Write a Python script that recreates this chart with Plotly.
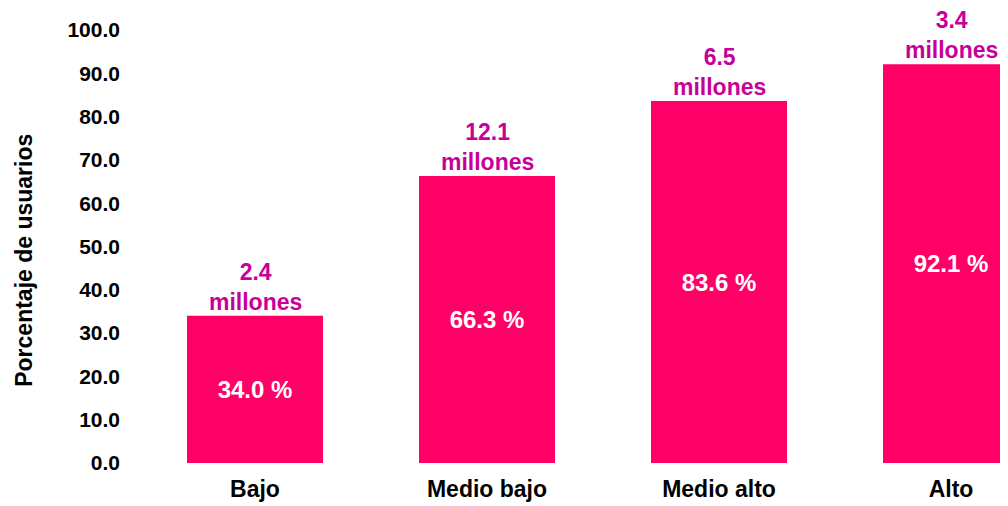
import plotly.graph_objects as go

categories = ["Bajo", "Medio bajo", "Medio alto", "Alto"]
percentages = [34.0, 66.3, 83.6, 92.1]
millions = ["2.4", "12.1", "6.5", "3.4"]
y_ticks = [0, 10, 20, 30, 40, 50, 60, 70, 80, 90, 100]

BAR = "#FF0066"
MAG = "#C8009A"
FONT = "Liberation Sans, Arial, sans-serif"

# page body has an 8px margin, so the figure is laid out 8px in from the window
FIG_W, FIG_H = 1000, 498
left = 131
top = 22
bottom = 42.5
band = 232
plot_w = FIG_W - left

fig = go.Figure()
fig.add_trace(go.Bar(
    x=categories,
    y=percentages,
    marker=dict(color=BAR, line=dict(width=0)),
    text=[f"{v:.1f} %" for v in percentages],
    textposition="inside",
    insidetextanchor="middle",
    textangle=0,
    textfont=dict(family=FONT, size=24, color="white", weight="bold"),
    cliponaxis=False,
    hoverinfo="skip",
))

for c, v, m in zip(categories, percentages, millions):
    fig.add_annotation(
        x=c, y=v, xref="x", yref="y",
        text=f"<b>{m}<br>millones</b>",
        showarrow=False, yanchor="bottom", xanchor="center",
        font=dict(family=FONT, size=23, color=MAG),
        borderpad=0,
        yshift=0,
    )

fig.add_annotation(
    x=0, xref="paper", xanchor="right", xshift=-101,
    y=0.467, yref="paper", yanchor="middle",
    text="<b>Porcentaje de usuarios</b>", textangle=-90,
    showarrow=False,
    borderpad=0,
    font=dict(family=FONT, size=23, color="black"),
)

fig.update_layout(
    width=FIG_W, height=FIG_H,
    margin=dict(l=left, r=0, t=top, b=bottom, pad=0),
    paper_bgcolor="white", plot_bgcolor="white",
    showlegend=False,
    bargap=96 / 232,
    xaxis=dict(
        range=[-0.5, -0.5 + plot_w / band],
        showgrid=False, showline=False, zeroline=False, ticks="",
        tickfont=dict(family=FONT, size=23, color="black", weight="bold"),
        ticklabelstandoff=10,
        fixedrange=True,
    ),
    yaxis=dict(
        range=[0, 100],
        tickvals=y_ticks,
        ticktext=[f"{t:.1f}" for t in y_ticks],
        showgrid=False, showline=False, zeroline=False, ticks="",
        tickfont=dict(family=FONT, size=21, color="black", weight="bold"),
        ticklabelstandoff=18,
        fixedrange=True,
    ),
)

fig.write_html("out.html")
